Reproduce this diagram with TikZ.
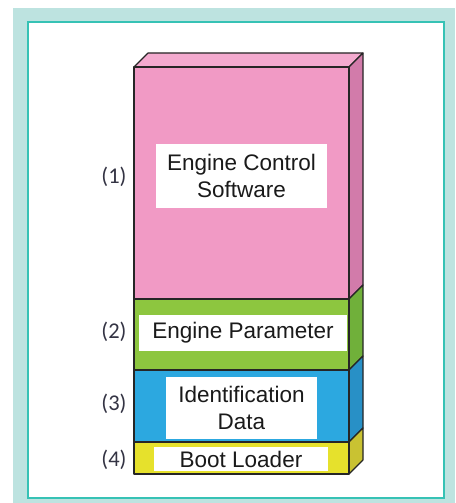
\documentclass[tikz,border=0pt]{standalone}
\usepackage{fontspec}
\setmainfont{Liberation Sans}
\newfontfamily\numfont{Carlito}
\definecolor{tealbg}{HTML}{BDE3E0}
\definecolor{tealline}{HTML}{36C2B5}
\definecolor{pinkF}{HTML}{F19AC5}
\definecolor{pinkT}{HTML}{F4AACF}
\definecolor{pinkS}{HTML}{D27BAA}
\definecolor{greenF}{HTML}{8DC63F}
\definecolor{greenS}{HTML}{70B03A}
\definecolor{blueF}{HTML}{2CA8E0}
\definecolor{blueS}{HTML}{2890C6}
\definecolor{yellowF}{HTML}{E6E12C}
\definecolor{yellowS}{HTML}{C9C232}
\definecolor{txt}{HTML}{1A1A1A}
\definecolor{numtxt}{HTML}{343444}
\tikzset{
  edge/.style={draw=black!85, line width=1.1pt, line join=round},
  labelbox/.style={fill=white, draw=none, inner sep=0pt, align=center, text=txt,
    font=\fontsize{22.5}{27.5}\selectfont},
  numlabel/.style={inner sep=0pt, text=numtxt, font=\numfont\fontsize{22.5}{27}\selectfont},
}
\begin{document}
\begin{tikzpicture}[x=1pt,y=-1pt]
\useasboundingbox (0,0) rectangle (455,503);
% background
\fill[white] (0,0) rectangle (455,503);
\fill[tealbg] (13,8) rectangle (455,503);
\draw[fill=white, draw=tealline, line width=1.6pt] (28,22) rectangle (444,498);
% top face
\path[edge, fill=pinkT] (134,67) -- (148,53) -- (363,53) -- (349,67) -- cycle;
% side faces
\path[edge, fill=pinkS] (349,67) -- (363,53) -- (363,285) -- (349,299) -- cycle;
\path[edge, fill=greenS] (349,299) -- (363,285) -- (363,356) -- (349,370) -- cycle;
\path[edge, fill=blueS] (349,370) -- (363,356) -- (363,428) -- (349,442) -- cycle;
\path[edge, fill=yellowS] (349,442) -- (363,428) -- (363,460) -- (349,474) -- cycle;
% front faces
\path[edge, fill=pinkF] (134,67) rectangle (349,299);
\path[edge, fill=greenF] (134,299) rectangle (349,370);
\path[edge, fill=blueF] (134,370) rectangle (349,442);
\path[edge, fill=yellowF] (134,442) rectangle (349,474);
% white label boxes
\node[labelbox, minimum width=171pt, minimum height=64pt] (ecs) at (241.5,176) {Engine Control\\Software};
\node[labelbox, minimum width=208pt, minimum height=36pt] (ep) at (243,333) {Engine Parameter};
\node[labelbox, minimum width=151pt, minimum height=62pt] (id) at (241.5,408) {Identification\\Data};
\node[labelbox, minimum width=174pt, minimum height=24pt] (bl) at (241,459) {Boot Loader};
% numbers
\node[numlabel] (n1) at (114,177) {(1)};
\node[numlabel] (n2) at (114,332) {(2)};
\node[numlabel] (n3) at (114,404) {(3)};
\node[numlabel] (n4) at (114,460) {(4)};
\end{tikzpicture}
\end{document}
